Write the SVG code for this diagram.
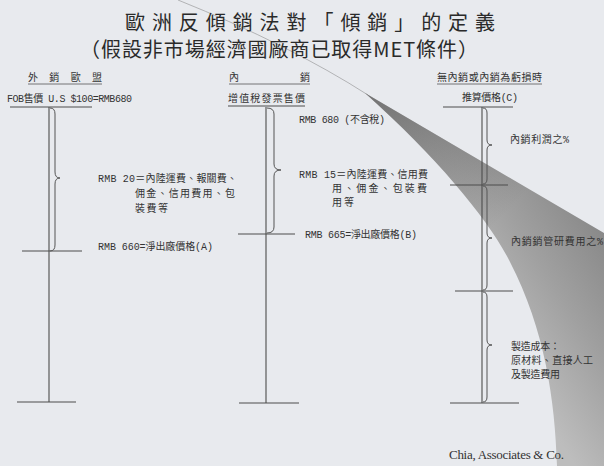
<svg xmlns="http://www.w3.org/2000/svg" width="604" height="466" viewBox="0 0 604 466">
<defs>
<style>
.ttl{font-family:"Noto Sans CJK TC","Noto Sans CJK SC",sans-serif;font-size:20px;fill:#2a2a2a}
.lb{font-family:"Liberation Mono","Noto Sans CJK TC",monospace;font-size:10px;fill:#333}
.ln{stroke:#4d4d4d;stroke-width:1.1;fill:none}
.ul{stroke:#555;stroke-width:0.8;fill:none}
.br{stroke:#555;stroke-width:1;fill:none}
.ft{font-family:"Liberation Serif",serif;font-size:13px;fill:#333}
</style>
<linearGradient id="sh" x1="470" y1="300" x2="604" y2="215" gradientUnits="userSpaceOnUse">
<stop offset="0" stop-color="#bdbdbd"/>
<stop offset="0.5" stop-color="#a0a0a0"/>
<stop offset="1" stop-color="#868686"/>
</linearGradient>
<linearGradient id="tip" x1="365" y1="93" x2="500" y2="220" gradientUnits="userSpaceOnUse">
<stop offset="0" stop-color="#555" stop-opacity="0.7"/>
<stop offset="1" stop-color="#555" stop-opacity="0"/>
</linearGradient>
</defs>
<rect width="604" height="466" fill="#e8eaee"/>
<g id="shadow">
<path d="M178 0 Q290 45 368 95" stroke="#777" stroke-width="0.8" fill="none" opacity="0.6"/>
<path d="M365 93 L604 233 L604 466 L557 466 C555 400 545 330 510 262 C490 222 440 160 365 93 Z" fill="url(#sh)"/>
<path d="M365 93 L604 233 L604 466 L557 466 C555 400 545 330 510 262 C490 222 440 160 365 93 Z" fill="url(#tip)"/>
</g>
<g id="title">
<text class="ttl" x="125" y="30" textLength="370" lengthAdjust="spacing">歐洲反傾銷法對「傾銷」的定義</text>
<text class="ttl" x="80" y="57" textLength="398" lengthAdjust="spacing">（假設非市場經濟國廠商已取得MET條件）</text>
</g>
<g id="col-export">
<text class="lb" x="28" y="81" textLength="74" lengthAdjust="spacing">外 銷 歐 盟</text>
<path class="ul" d="M28 84 H102"/>
<text class="lb" x="7" y="102" textLength="125" lengthAdjust="spacing">FOB售價 U.S $100=RMB680</text>
<text class="lb" x="98" y="182" textLength="139" lengthAdjust="spacing">RMB 20＝內陸運費、報關費、</text>
<text class="lb" x="135" y="197" textLength="100" lengthAdjust="spacing">佣金、信用費用、包</text>
<text class="lb" x="135" y="212" textLength="33" lengthAdjust="spacing">裝費等</text>
<text class="lb" x="98" y="250" textLength="115" lengthAdjust="spacing">RMB 660=淨出廠價格(A)</text>
</g>
<g id="col-domestic">
<text class="lb" x="229" y="81">內</text>
<text class="lb" x="300" y="81">銷</text>
<path class="ul" d="M229 84 H310"/>
<text class="lb" x="228" y="102" textLength="77" lengthAdjust="spacing">增值稅發票售價</text>
<text class="lb" x="299" y="123" textLength="86" lengthAdjust="spacing">RMB 680 (不含稅)</text>
<text class="lb" x="299" y="178" textLength="129" lengthAdjust="spacing">RMB 15＝內陸運費、信用費</text>
<text class="lb" x="332" y="192" textLength="95" lengthAdjust="spacing">用、佣金、包裝費</text>
<text class="lb" x="332" y="206" textLength="22" lengthAdjust="spacing">用等</text>
<text class="lb" x="305" y="238" textLength="112" lengthAdjust="spacing">RMB 665=淨出廠價格(B)</text>
</g>
<g id="col-constructed">
<text class="lb" x="437" y="81" textLength="105" lengthAdjust="spacing">無內銷或內銷為虧損時</text>
<path class="ul" d="M437 84 H542"/>
<text class="lb" x="462" y="101" textLength="56" lengthAdjust="spacing">推算價格(C)</text>
<text class="lb" x="510" y="143" textLength="59" lengthAdjust="spacing">內銷利潤之%</text>
<text class="lb" x="511" y="245" textLength="92" lengthAdjust="spacing">內銷銷管研費用之%</text>
<text class="lb" x="511" y="350" textLength="49" lengthAdjust="spacing">製造成本：</text>
<text class="lb" x="511" y="364" textLength="82" lengthAdjust="spacing">原材料、直接人工</text>
<text class="lb" x="511" y="378" textLength="49" lengthAdjust="spacing">及製造費用</text>
</g>
<g id="connectors">
<path class="ln" d="M10 107 H92 M49 107 V402 M22 251 H82 M17 402 H76"/>
<path class="ln" d="M228 106 H305 M266 107 V403 M238 234 H295 M239 403 H299"/>
<path class="ln" d="M443 107 H513 M482 107 V403 M450 185 H508 M455 291 H513 M450 403 H519"/>
<path class="br" d="M50 108 Q55 108 55 114 V172 Q55 178 60 178 Q55 178 55 184 V245 Q55 251 50 251"/>
<path class="br" d="M267 108 Q274 108 274 114 V164 Q274 170 281 170 Q274 170 274 176 V227 Q274 233 267 233"/>
<path class="br" d="M483 108 Q487 108 487 113 V140 Q487 145 492 145 Q487 145 487 150 V179 Q487 184 483 184"/>
<path class="br" d="M483 186 Q487 186 487 191 V233 Q487 238 492 238 Q487 238 487 243 V285 Q487 290 483 290"/>
<path class="br" d="M483 292 Q487 292 487 297 V340 Q487 345 492 345 Q487 345 487 350 V397 Q487 402 483 402"/>
</g>
<text class="ft" x="449" y="459" textLength="115" lengthAdjust="spacing">Chia, Associates &amp; Co.</text>
</svg>
